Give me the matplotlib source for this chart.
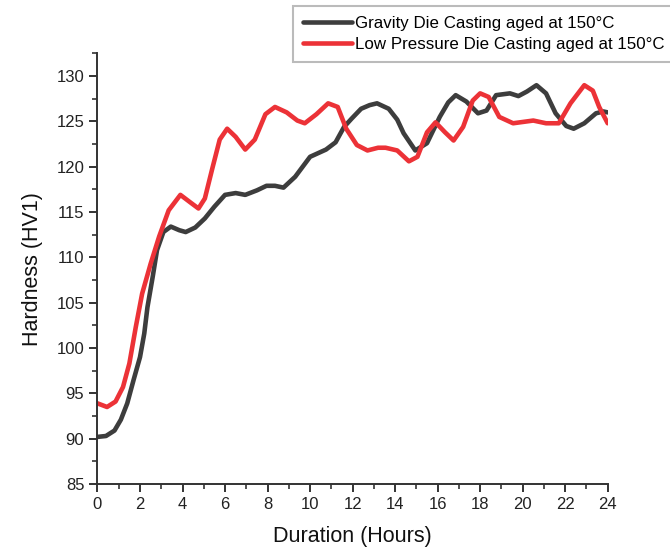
import matplotlib.pyplot as plt
from matplotlib.ticker import MultipleLocator

plt.rcParams['font.family'] = ['Liberation Sans', 'DejaVu Sans']

# Gravity die casting, aged at 150°C
gravity_hours = [0.0, 0.4, 0.8, 1.1, 1.4, 1.7, 2.0, 2.2, 2.35, 2.6, 2.8, 3.1, 3.45,
                 3.85, 4.15, 4.6, 5.05, 5.5, 6.0, 6.5, 6.95, 7.5, 7.95, 8.35, 8.75,
                 9.3, 10.0, 10.75, 11.2, 11.6, 11.95, 12.4, 12.8, 13.15, 13.7, 14.1,
                 14.4, 14.95, 15.5, 16.1, 16.5, 16.85, 17.35, 17.9, 18.3, 18.75, 19.4,
                 19.8, 20.2, 20.65, 21.1, 21.55, 22.05, 22.4, 22.9, 23.45, 23.8, 24.0]
gravity_hv = [90.2, 90.3, 90.9, 92.1, 93.9, 96.5, 99.0, 101.6, 104.5, 107.9, 110.8,
              112.8, 113.4, 113.0, 112.8, 113.3, 114.3, 115.6, 116.9, 117.1, 116.9,
              117.4, 117.9, 117.9, 117.7, 118.9, 121.1, 121.9, 122.7, 124.4, 125.3,
              126.4, 126.8, 127.0, 126.4, 125.2, 123.7, 121.8, 122.6, 125.5, 127.1,
              127.9, 127.2, 125.9, 126.2, 127.9, 128.1, 127.8, 128.3, 129.0, 128.1,
              125.9, 124.5, 124.2, 124.8, 125.9, 126.1, 126.0]

# Low pressure die casting, aged at 150°C
lowp_hours = [0.0, 0.45, 0.85, 1.2, 1.5, 1.8, 2.1, 2.5, 2.9, 3.35, 3.9, 4.35, 4.75,
              5.05, 5.4, 5.75, 6.1, 6.5, 6.95, 7.4, 7.9, 8.35, 8.9, 9.4, 9.75, 10.3,
              10.85, 11.3, 11.7, 12.2, 12.7, 13.2, 13.55, 14.1, 14.65, 15.05, 15.5,
              15.9, 16.35, 16.75, 17.2, 17.65, 18.0, 18.4, 18.9, 19.55, 20.5, 21.1,
              21.7, 22.25, 22.9, 23.3, 23.6, 24.0]
lowp_hv = [93.9, 93.5, 94.1, 95.7, 98.3, 102.3, 106.0, 109.3, 112.3, 115.2, 116.9,
           116.1, 115.4, 116.5, 119.8, 123.0, 124.2, 123.3, 121.9, 123.0, 125.8, 126.6,
           126.0, 125.1, 124.8, 125.8, 127.0, 126.6, 124.2, 122.4, 121.8, 122.1, 122.1,
           121.8, 120.6, 121.1, 123.8, 124.9, 123.8, 122.9, 124.4, 127.3, 128.1, 127.7,
           125.5, 124.8, 125.1, 124.8, 124.8, 127.0, 129.0, 128.4, 126.6, 124.8]

fig = plt.figure(figsize=(6.7, 5.57), dpi=100)
ax = fig.add_axes([0.1455, 0.131, 0.7615, 0.773])

ax.plot(gravity_hours, gravity_hv, color='#3d3d3d', lw=3.3,
        solid_joinstyle='round', solid_capstyle='round',
        label='Gravity Die Casting aged at 150°C')
ax.plot(lowp_hours, lowp_hv, color='#ec3237', lw=3.3,
        solid_joinstyle='round', solid_capstyle='round',
        label='Low Pressure Die Casting aged at 150°C')

ax.set_xlim(0, 24)
ax.set_ylim(85, 132.5)
ax.xaxis.set_major_locator(MultipleLocator(2))
ax.xaxis.set_minor_locator(MultipleLocator(1))
ax.yaxis.set_major_locator(MultipleLocator(5))
ax.yaxis.set_minor_locator(MultipleLocator(2.5))

for s in ['top', 'right']:
    ax.spines[s].set_visible(False)
for s in ['left', 'bottom']:
    ax.spines[s].set_linewidth(1.4)
    ax.spines[s].set_color('#333333')

ax.tick_params(which='major', direction='out', length=6, width=1.4,
               colors='#333333', labelsize=12, labelcolor='#222222')
ax.tick_params(which='minor', direction='out', length=3.5, width=1.2,
               colors='#333333')

ax.set_xlabel('Duration (Hours)', fontsize=15.5, color='#111111', labelpad=10)
ax.set_ylabel('Hardness (HV1)', fontsize=15.5, color='#111111', labelpad=10)

leg = fig.legend(loc='upper left', bbox_to_anchor=(293 / 670, 1 - 6 / 557),
                 fontsize=12.2, frameon=True, fancybox=False, handlelength=2.9,
                 handletextpad=0.15, borderpad=0.6, labelspacing=0.35,
                 borderaxespad=0)
leg.get_frame().set_edgecolor('#aaaaaa')
leg.get_frame().set_linewidth(1.5)

fig.savefig('out.png', dpi=100)
